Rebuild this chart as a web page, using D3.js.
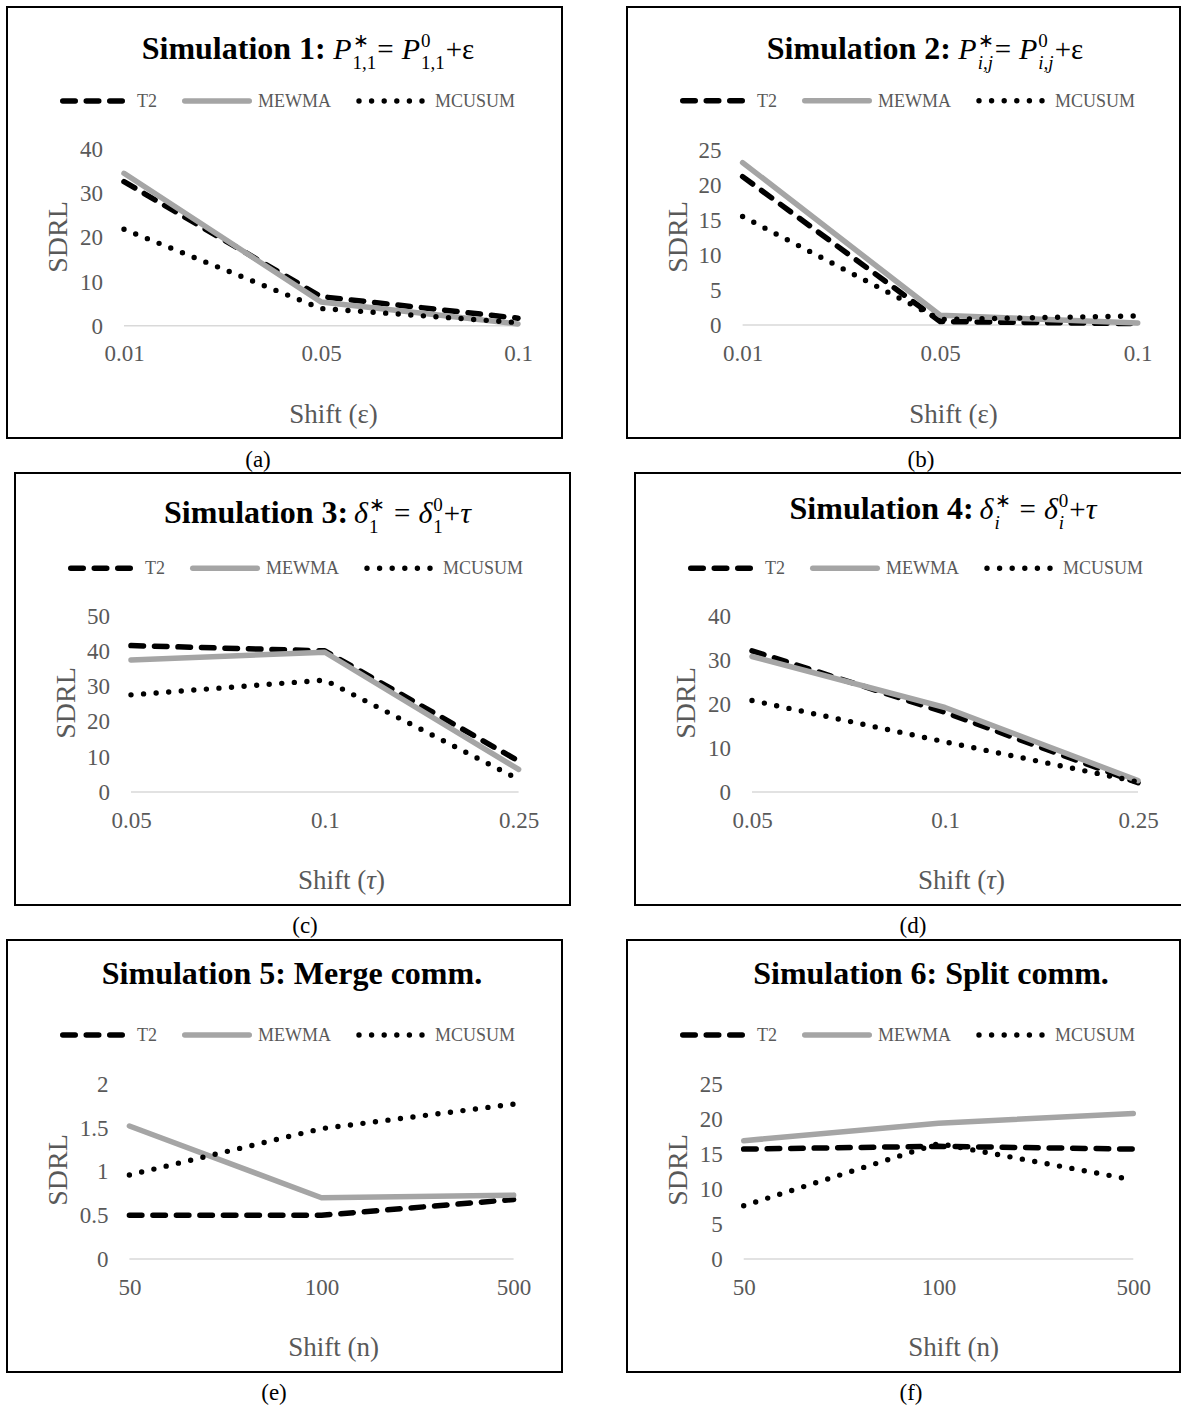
<!DOCTYPE html>
<html><head><meta charset="utf-8">
<script src="https://cdn.jsdelivr.net/npm/d3@7"></script>
<style>
body{margin:0;background:#fff}
svg{display:block}
</style>
</head><body>
<svg id="chart" width="1181" height="1405"></svg>
<script>
// ---------------- DATA ----------------
const seriesNames = ["T2", "MEWMA", "MCUSUM"];
const catsEps = ["0.01", "0.05", "0.1"];
const catsTau = ["0.05", "0.1", "0.25"];
const catsN = ["50", "100", "500"];

const sim1T2 = [32.7, 6.6, 1.7];
const sim1MEWMA = [34.6, 5.4, 0.4];
const sim1MCUSUM = [21.9, 3.9, 0.7];

const sim2T2 = [21.2, 0.5, 0.2];
const sim2MEWMA = [23.2, 1.4, 0.3];
const sim2MCUSUM = [15.5, 0.8, 1.3];

const sim3T2 = [41.6, 40.1, 8.8];
const sim3MEWMA = [37.5, 39.7, 6.4];
const sim3MCUSUM = [27.6, 31.8, 3.6];

const sim4T2 = [32.1, 18.1, 2.1];
const sim4MEWMA = [30.8, 19.2, 2.6];
const sim4MCUSUM = [20.8, 11.4, 2.3];

const sim5T2 = [0.50, 0.50, 0.68];
const sim5MEWMA = [1.52, 0.70, 0.73];
const sim5MCUSUM = [0.96, 1.49, 1.77];

const sim6T2 = [15.7, 16.1, 15.7];
const sim6MEWMA = [16.9, 19.4, 20.8];
const sim6MCUSUM = [7.6, 16.5, 11.3];

const yTicks1 = [0, 10, 20, 30, 40];
const yTicks2 = [0, 5, 10, 15, 20, 25];
const yTicks3 = [0, 10, 20, 30, 40, 50];
const yTicks4 = [0, 10, 20, 30, 40];
const yTicks5 = [0, 0.5, 1, 1.5, 2];
const yTicks6 = [0, 5, 10, 15, 20, 25];

const yTitle = "SDRL";
const panelLabels = ["(a)", "(b)", "(c)", "(d)", "(e)", "(f)"];

// ---------------- LAYOUT ----------------
const SERIF = "'Liberation Serif','Times New Roman',serif";
const GRAY_TXT = "#595959";
const MEWMA_COL = "#a5a5a5";

const panels = [
  {cats: catsEps, s: [sim1T2, sim1MEWMA, sim1MCUSUM], ticks: yTicks1, xTitle: ["Shift (", "ε", ")"], xIt: false,
   fx: 7, fy: 7, fw: 555, fh: 431, px0: 124, px1: 518, yTop: 149.5, yZero: 325.7,
   tcx: 308, tbase: 59, legY: 101, lx: 258, ly: 459,
   title: [{b: "Simulation 1:"}, {gap: 7.5}, {it: "P"}, {sup: "∗", sub: "1,1"}, {m: "="}, {gap: 8}, {it: "P"}, {sup: "0", sub: "1,1"}, {m: "+ε"}]},
  {cats: catsEps, s: [sim2T2, sim2MEWMA, sim2MCUSUM], ticks: yTicks2, xTitle: ["Shift (", "ε", ")"], xIt: false,
   fx: 627, fy: 7, fw: 553, fh: 431, px0: 742.6, px1: 1137.7, yTop: 150, yZero: 325,
   tcx: 925, tbase: 59.3, legY: 100.7, lx: 921, ly: 459,
   title: [{b: "Simulation 2:"}, {gap: 7.5}, {it: "P"}, {sup: "∗", sub: "i,j", subIt: true}, {m: "="}, {gap: 8}, {it: "P"}, {sup: "0", sub: "i,j", subIt: true}, {m: "+ε"}]},
  {cats: catsTau, s: [sim3T2, sim3MEWMA, sim3MCUSUM], ticks: yTicks3, xTitle: ["Shift (", "τ", ")"], xIt: true,
   fx: 15, fy: 473, fw: 555, fh: 432, px0: 131, px1: 518.6, yTop: 616, yZero: 792,
   tcx: 318, tbase: 523.3, legY: 568.3, lx: 305, ly: 925,
   title: [{b: "Simulation 3:"}, {gap: 6}, {it: "δ"}, {sup: "∗", sub: "1"}, {gap: 8}, {m: "="}, {gap: 8}, {it: "δ"}, {sup: "0", sub: "1"}, {m: "+"}, {it: "τ"}]},
  {cats: catsTau, s: [sim4T2, sim4MEWMA, sim4MCUSUM], ticks: yTicks4, xTitle: ["Shift (", "τ", ")"], xIt: true,
   fx: 635, fy: 473, fw: 547, fh: 432, px0: 752, px1: 1138, yTop: 616, yZero: 792,
   tcx: 943.5, tbase: 519.3, legY: 568.3, lx: 913, ly: 925,
   title: [{b: "Simulation 4:"}, {gap: 6}, {it: "δ"}, {sup: "∗", sub: "i", subIt: true}, {gap: 8}, {m: "="}, {gap: 8}, {it: "δ"}, {sup: "0", sub: "i", subIt: true}, {m: "+"}, {it: "τ"}]},
  {cats: catsN, s: [sim5T2, sim5MEWMA, sim5MCUSUM], ticks: yTicks5, xTitle: ["Shift (n)"], xIt: false,
   fx: 7, fy: 940, fw: 555, fh: 432, px0: 129.4, px1: 513.6, yTop: 1084, yZero: 1259,
   tcx: 292, tbase: 984, legY: 1035, lx: 274, ly: 1392,
   title: [{b: "Simulation 5: Merge comm."}]},
  {cats: catsN, s: [sim6T2, sim6MEWMA, sim6MCUSUM], ticks: yTicks6, xTitle: ["Shift (n)"], xIt: false,
   fx: 627, fy: 940, fw: 553, fh: 432, px0: 743.7, px1: 1133.3, yTop: 1084, yZero: 1259,
   tcx: 931, tbase: 984, legY: 1035, lx: 911, ly: 1392,
   title: [{b: "Simulation 6: Split comm."}]}
];

const styles = [
  {stroke: "#000", width: 5.5, dash: "12.5,11", cap: "round"},
  {stroke: MEWMA_COL, width: 5.5, dash: null, cap: "round"},
  {stroke: "#000", width: 5.4, dash: "0,12.6", cap: "round"}
];

const svg = d3.select("#chart");
svg.append("rect").attr("width", 1181).attr("height", 1405).attr("fill", "#fff");

const MATH_SIZE = 30, SCRIPT_SIZE = 19, SUP_DY = -12, SUB_DY = 9.5;

// Build the title as a single text element whose tspans are positioned explicitly.
function drawTitle(g, pieces, cx, base) {
  const runs = [];
  let x = 0;
  const measure = (txt, size, weight, italic) => {
    const tmp = svg.append("text")
      .style("font-family", SERIF).style("font-size", size + "px")
      .style("font-weight", weight).style("font-style", italic ? "italic" : "normal").text(txt);
    const w = tmp.node().getComputedTextLength();
    tmp.remove();
    return w;
  };
  pieces.forEach(p => {
    if (p.gap !== undefined) { x += p.gap; return; }
    if (p.b !== undefined) {
      runs.push({t: p.b, size: 32, w: "bold", it: false, x, y: base});
      x += measure(p.b, 32, "bold", false); return;
    }
    if (p.it !== undefined) {
      runs.push({t: p.it, size: MATH_SIZE, w: "normal", it: true, x, y: base});
      x += measure(p.it, MATH_SIZE, "normal", true) + 1; return;
    }
    if (p.m !== undefined) {
      runs.push({t: p.m, size: MATH_SIZE - 1, w: "normal", it: false, x, y: base});
      x += measure(p.m, MATH_SIZE - 1, "normal", false); return;
    }
    if (p.sup !== undefined) {
      runs.push({t: p.sup, size: SCRIPT_SIZE, w: "normal", it: false, x, y: base + SUP_DY});
      runs.push({t: p.sub, size: SCRIPT_SIZE, w: "normal", it: !!p.subIt, x, y: base + SUB_DY});
      x += Math.max(measure(p.sup, SCRIPT_SIZE, "normal", false),
                    measure(p.sub, SCRIPT_SIZE, "normal", !!p.subIt)) + 1;
    }
  });
  const off = cx - x / 2;
  const t = g.append("text").style("font-family", SERIF).attr("fill", "#000");
  runs.forEach(r => {
    t.append("tspan").attr("x", off + r.x).attr("y", r.y)
      .style("font-size", r.size + "px").style("font-weight", r.w)
      .style("font-style", r.it ? "italic" : "normal").text(r.t);
  });
}

panels.forEach((P, i) => {
  const g = svg.append("g");
  // frame
  g.append("rect").attr("x", P.fx).attr("y", P.fy).attr("width", P.fw).attr("height", P.fh)
    .attr("fill", "#fff").attr("stroke", "#000").attr("stroke-width", 2);

  const x = d3.scalePoint().domain(P.cats).range([P.px0, P.px1]).padding(0);
  const y = d3.scaleLinear().domain([0, P.ticks[P.ticks.length - 1]]).range([P.yZero, P.yTop]);

  // zero gridline
  g.append("line").attr("x1", P.px0).attr("x2", P.px1).attr("y1", y(0)).attr("y2", y(0))
    .attr("stroke", "#d9d9d9").attr("stroke-width", 1.5);

  // y axis
  const ya = g.append("g").attr("transform", `translate(${P.px0},0)`)
    .call(d3.axisLeft(y).tickValues(P.ticks).tickSize(0).tickPadding(21).tickFormat(d3.format("")));
  ya.select(".domain").remove();
  ya.selectAll("text").style("font-family", SERIF).style("font-size", "23px").attr("fill", GRAY_TXT);

  // x axis
  const xa = g.append("g").attr("transform", `translate(0,${P.yZero})`)
    .call(d3.axisBottom(x).tickSize(0).tickPadding(0));
  xa.select(".domain").remove();
  xa.selectAll("text").attr("dy", null).attr("y", 28).attr("dominant-baseline", "central")
    .style("font-family", SERIF).style("font-size", "23px").attr("fill", GRAY_TXT);

  // lines
  const line = d3.line().x((d, k) => x(P.cats[k])).y(d => y(d));
  P.s.forEach((vals, k) => {
    const st = styles[k];
    g.append("path").datum(vals).attr("d", line).attr("fill", "none")
      .attr("stroke", st.stroke).attr("stroke-width", st.width)
      .attr("stroke-linecap", st.cap).attr("stroke-linejoin", "round")
      .attr("stroke-dasharray", st.dash);
  });

  // legend
  const legItems = [
    {x0: 55.75, x1: 115.25, tx: 130},
    {x0: 177.75, x1: 242.25, tx: 251},
    {x0: 352, x1: 415.5, tx: 428}
  ];
  seriesNames.forEach((nm, k) => {
    const L = legItems[k], st = styles[k];
    g.append("line").attr("x1", P.fx + L.x0).attr("x2", P.fx + L.x1).attr("y1", P.legY).attr("y2", P.legY)
      .attr("stroke", st.stroke).attr("stroke-width", st.width).attr("stroke-linecap", st.cap)
      .attr("stroke-dasharray", st.dash);
    g.append("text").attr("x", P.fx + L.tx).attr("y", P.legY).attr("dominant-baseline", "central")
      .style("font-family", SERIF).style("font-size", "18px").attr("fill", GRAY_TXT).text(nm);
  });

  // y title
  g.append("text").attr("transform", `translate(${P.fx + 50.5},${P.fy + 230}) rotate(-90)`)
    .attr("text-anchor", "middle").attr("dominant-baseline", "central")
    .style("font-family", SERIF).style("font-size", "28px").attr("fill", GRAY_TXT).text(yTitle);

  // x title
  const xt = g.append("text").attr("x", P.fx + 326.5).attr("y", P.fy + 416).attr("text-anchor", "middle")
    .style("font-family", SERIF).style("font-size", "27px").attr("fill", GRAY_TXT);
  P.xTitle.forEach((part, k) => {
    xt.append("tspan").style("font-style", (P.xIt && k === 1) ? "italic" : "normal").text(part);
  });

  // title
  drawTitle(g, P.title, P.tcx, P.tbase);

  // panel label
  svg.append("text").attr("x", P.lx).attr("y", P.ly).attr("text-anchor", "middle")
    .attr("dominant-baseline", "central")
    .style("font-family", SERIF).style("font-size", "23px").attr("fill", "#000").text(panelLabels[i]);
});
</script>
</body></html>
